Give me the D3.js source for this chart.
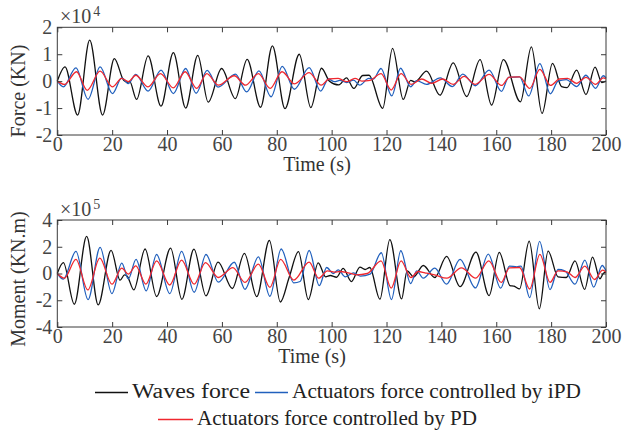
<!DOCTYPE html>
<html>
<head>
<meta charset="utf-8">
<script src="https://cdn.jsdelivr.net/npm/d3@7"></script>
<style>
  body { margin: 0; background: #fff; }
  svg { display: block; }
  text { font-family: "Liberation Serif", "Times New Roman", serif; }
</style>
</head>
<body>
<svg id="chart" width="623" height="431"></svg>
<script>
// values: [time (s), value]
// force in units of 1e4 KN, moment in units of 1e5 KN.m
const forceWaves = [[0,0],[2.8,0.53],[7.4,-1.26],[11.8,1.52],[16.5,-1.26],[20.8,0.84],[24.2,0.03],[25.6,-0.04],[26.4,-0.02],[28.9,-0.68],[33.1,0.94],[37.8,-0.93],[42.3,1.06],[46.8,-1.0],[51.2,0.96],[55.0,-0.78],[59.9,0.47],[64.9,-0.65],[69.2,0.81],[74.1,-0.97],[78.4,1.31],[83.0,-1.02],[88.2,1.0],[92.4,-0.98],[96.3,0.48],[99.2,0.0],[102.6,-0.14],[105.4,0.12],[108.1,-0.27],[111.3,0.21],[113.6,0.22],[118.6,-1.01],[122.2,1.22],[126.1,-0.68],[128.8,0.03],[130.3,-0.03],[134.6,0.37],[139.5,-0.52],[144.3,0.68],[149.2,-0.57],[154.1,0.8],[158.3,-0.89],[162.6,0.8],[168.8,-0.77],[172.8,1.27],[176.7,-1.2],[180.5,0.66],[183.8,-0.2],[185.8,-0.24],[189.3,0.41],[192.7,-0.5],[196.0,0.52],[198.5,-0.05],[200,0.0]];
const forceIPD = [[0,0],[2.2,-0.21],[6.8,0.49],[11.2,-0.67],[15.6,0.53],[20.1,-0.46],[23.5,0.12],[25.9,-0.09],[28.6,0.25],[33.1,-0.37],[37.8,0.41],[42.3,-0.46],[46.8,0.47],[50.6,-0.45],[54.6,0.4],[58.6,-0.22],[64.9,0.26],[69.0,-0.4],[73.5,0.38],[77.9,-0.58],[82.0,0.55],[86.4,-0.3],[91.8,0.5],[96.0,-0.37],[98.8,0.08],[101,-0.02],[103,0.03],[105.5,-0.05],[108,0.04],[110.2,-0.15],[113.5,0.1],[115.2,0.08],[118.0,0.47],[121.9,-0.55],[125.1,0.48],[128.8,-0.21],[131,0.02],[134.6,-0.12],[139.6,0.12],[144.0,-0.2],[147.8,0.26],[152.4,-0.17],[157.4,0.41],[161.9,-0.38],[164.5,0.14],[168.5,0.16],[171.8,-0.55],[175.9,0.65],[179.7,-0.47],[182.5,0.0],[185.5,0.06],[189.3,-0.2],[192.7,0.22],[196.2,-0.27],[199.0,0.2],[200,0.12]];
const forcePD = [[0,0],[2.6,-0.12],[7.0,0.35],[10.9,-0.34],[15.6,0.37],[20.1,-0.21],[23.5,0.1],[25.9,-0.02],[28.6,0.22],[33.1,-0.21],[37.6,0.28],[42.3,-0.25],[46.6,0.35],[50.8,-0.27],[54.5,0.28],[58.7,-0.15],[64.5,0.2],[68.6,-0.15],[73.3,0.28],[77.6,-0.27],[81.9,0.35],[86.5,-0.1],[91.8,0.32],[96.2,-0.15],[99,0.08],[102.4,0.1],[105.5,-0.02],[108.5,0.1],[111,0.0],[114,0.03],[118.0,0.28],[121.7,-0.33],[125.3,0.28],[129.0,-0.12],[132.8,0.08],[136.5,-0.08],[140.5,0.08],[144.3,-0.12],[148.3,0.18],[152.3,-0.12],[157.4,0.25],[161.9,-0.16],[164.8,0.15],[168.5,0.16],[172.2,-0.27],[175.9,0.44],[179.8,-0.16],[183,0.08],[186,0.1],[189.3,-0.08],[192.7,0.14],[196.2,-0.12],[199,0.12],[200,0.08]];

const momentWaves = [[0,0],[2.2,0.81],[6.2,-2.3],[10.7,2.77],[14.9,-2.35],[19.6,1.73],[22.9,-0.5],[24.5,-0.1],[25.5,-0.2],[27.9,-1.23],[32.0,1.83],[36.2,-1.72],[41.3,1.9],[45.4,-1.93],[49.8,1.82],[54.2,-1.67],[58.6,0.85],[63.8,-1.12],[68.2,1.5],[72.7,-1.73],[77.3,2.47],[81.3,-2.13],[84.5,-0.3],[87.9,1.63],[91.5,-1.95],[95.1,0.8],[97.8,-0.25],[99.5,-0.15],[101.8,-0.28],[104.2,0.38],[107.2,-0.6],[110.3,0.48],[112.2,0.3],[113.9,0.45],[117.6,-1.92],[121.2,2.54],[125.5,-1.9],[127.5,0.2],[129.9,-0.25],[133.4,0.6],[137.6,-0.3],[141.9,1.28],[146.8,-0.98],[152.6,1.6],[157.4,-1.65],[161.1,1.58],[165.0,-0.9],[166.5,-0.95],[168.5,-1.15],[172.0,2.42],[175.7,-2.64],[178.9,1.68],[182.5,-0.25],[185.5,-0.3],[188.7,0.94],[192.2,-1.19],[195.1,1.23],[197.8,-0.4],[199,0.0],[200,0.1]];
const momentIPD = [[0,0],[2.2,-0.42],[6.8,1.66],[11.2,-1.95],[15.6,1.95],[19.9,-1.5],[23.5,0.78],[25.9,-0.4],[28.7,1.05],[32.4,-1.3],[36.2,1.42],[41.0,-1.5],[45.3,1.65],[49.9,-1.4],[54.2,1.42],[58.7,-0.65],[64.5,0.84],[68.4,-1.18],[73.3,1.25],[77.5,-1.7],[81.6,1.83],[86.2,-0.7],[88.5,-0.6],[91.8,1.72],[95.5,-0.9],[98.2,0.45],[100.5,0.0],[102.4,0.27],[105,-0.25],[108,0.05],[110.5,-0.2],[114,-0.05],[118.1,1.55],[121.8,-1.95],[125.2,1.7],[128.8,-0.75],[131,0.2],[133.4,-0.35],[137.6,0.4],[141.9,-0.8],[146.8,1.05],[152.4,-1.08],[157.1,1.45],[161.6,-1.1],[164.8,0.55],[167.5,0.5],[169,0.55],[172.2,-1.8],[175.8,2.4],[179.6,-1.2],[182.5,0.3],[185,0.2],[188.7,-0.8],[192.3,1.0],[195.5,-1.02],[198.6,0.6],[200,0.2]];
const momentPD = [[0,0],[2.6,-0.35],[6.8,1.05],[11.1,-1.23],[15.5,1.15],[19.9,-0.8],[23.5,0.4],[25.9,-0.05],[28.6,0.57],[32.3,-0.79],[36.2,0.94],[41.0,-0.86],[45.3,1.0],[49.9,-0.8],[54.0,0.81],[58.7,-0.3],[64.0,0.44],[68.4,-0.67],[73.3,0.7],[77.5,-1.04],[81.4,1.06],[86.2,-0.49],[91.8,0.85],[95.3,-0.35],[98.5,0.2],[101,0.1],[103,0.15],[106,0.05],[109,-0.1],[113,0.0],[118.0,0.94],[121.7,-1.09],[125.3,0.94],[128.9,-0.3],[131.5,0.15],[134,0.05],[137.5,-0.1],[142,-0.35],[147.3,0.42],[152.5,-0.35],[157.3,0.94],[161.8,-0.67],[164.8,0.42],[168.5,0.45],[172.2,-1.16],[175.9,1.43],[179.6,-0.67],[182.5,0.2],[186,0.1],[188.7,-0.3],[192.3,0.55],[195.8,-0.45],[198.8,0.25],[200,0.1]];

const xTicks = [0, 20, 40, 60, 80, 100, 120, 140, 160, 180, 200];
const forceTicks = [-2, -1, 0, 1, 2];
const momentTicks = [-4, -2, 0, 2, 4];
const seriesNames = ["Waves force", "Actuators force controlled by iPD", "Actuators force controlled by PD"];
const seriesColors = ["#111111", "#2160bd", "#f0272e"];

const axisColor = "#3a3a3a";
const svg = d3.select("#chart");

const x = d3.scaleLinear().domain([0, 200]).range([57.3, 606]);
const fmt = d => String(d);

const panels = [
  { top: 27.3, bottom: 135, domain: [-2, 2], ticks: forceTicks, exp: "4", label: "Force (KN)", labelY: 91, xlabelX: 317, data: [forceWaves, forceIPD, forcePD] },
  { top: 220, bottom: 327, domain: [-4, 4], ticks: momentTicks, exp: "5", label: "Moment (KN.m)", labelY: 279, xlabelX: 312, data: [momentWaves, momentIPD, momentPD] }
];

panels.forEach(p => {
  const y = d3.scaleLinear().domain(p.domain).range([p.bottom, p.top]);
  const g = svg.append("g");

  const line = d3.line()
    .x(d => x(d[0]))
    .y(d => y(d[1]))
    .curve(d3.curveMonotoneX);

  g.selectAll("path.series")
    .data(p.data)
    .enter()
    .append("path")
      .attr("class", "series")
      .attr("d", line)
      .attr("fill", "none")
      .attr("stroke", (d, i) => seriesColors[i])
      .attr("stroke-width", 1.3);

  // box
  g.append("rect")
    .attr("x", x(0)).attr("y", p.top)
    .attr("width", x(200) - x(0)).attr("height", p.bottom - p.top)
    .attr("fill", "none").attr("stroke", axisColor).attr("stroke-width", 1);

  const styleAxis = sel => {
    sel.select(".domain").remove();
    sel.selectAll(".tick line").attr("stroke", axisColor);
    sel.selectAll(".tick text")
      .attr("fill", "#444")
      .style("font-size", "20px")
      .style("font-family", "'Liberation Serif', serif");
  };

  g.append("g")
    .attr("transform", `translate(0,${p.bottom})`)
    .call(d3.axisBottom(x).tickValues(xTicks).tickFormat(fmt).tickSizeInner(-5).tickSizeOuter(0).tickPadding(2))
    .call(styleAxis);
  g.append("g")
    .attr("transform", `translate(0,${p.top})`)
    .call(d3.axisTop(x).tickValues(xTicks).tickSizeInner(-5).tickSizeOuter(0).tickFormat(""))
    .call(styleAxis);
  g.append("g")
    .attr("transform", `translate(${x(0)},0)`)
    .call(d3.axisLeft(y).tickValues(p.ticks).tickFormat(fmt).tickSizeInner(-5).tickSizeOuter(0).tickPadding(5))
    .call(styleAxis);
  g.append("g")
    .attr("transform", `translate(${x(200)},0)`)
    .call(d3.axisRight(y).tickValues(p.ticks).tickSizeInner(-5).tickSizeOuter(0).tickFormat(""))
    .call(styleAxis);

  // exponent label
  const ex = g.append("text")
    .attr("x", 60).attr("y", p.top - 4)
    .attr("fill", "#444")
    .style("font-size", "20px");
  ex.append("tspan").text("\u00d710");
  ex.append("tspan").attr("dy", -7).attr("dx", 2).style("font-size", "14px").text(p.exp);

  // axis titles
  g.append("text")
    .attr("transform", `translate(25,${p.labelY}) rotate(-90)`)
    .attr("text-anchor", "middle")
    .attr("fill", "#333")
    .style("font-size", "20px")
    .text(p.label);

  g.append("text")
    .attr("x", p.xlabelX).attr("y", p.bottom + 36)
    .attr("text-anchor", "middle")
    .attr("fill", "#333")
    .style("font-size", "20px")
    .text("Time (s)");
});

// legend
const legendItems = [
  { x1: 95, x2: 128, y: 392.5, ty: 397.5, w: 118 },
  { x1: 255, x2: 288, y: 392.5, ty: 397.5, w: 289 },
  { x1: 158, x2: 193, y: 419.5, ty: 424.5, w: 280 }
];
const leg = svg.append("g");
legendItems.forEach((d, i) => {
  leg.append("line")
    .attr("x1", d.x1).attr("x2", d.x2).attr("y1", d.y).attr("y2", d.y)
    .attr("stroke", seriesColors[i]).attr("stroke-width", 1.3);
  leg.append("text")
    .attr("x", d.x2 + 4).attr("y", d.ty)
    .attr("fill", "#222")
    .attr("textLength", d.w)
    .attr("lengthAdjust", "spacingAndGlyphs")
    .style("font-size", "20px")
    .text(seriesNames[i]);
});
</script>
</body>
</html>
